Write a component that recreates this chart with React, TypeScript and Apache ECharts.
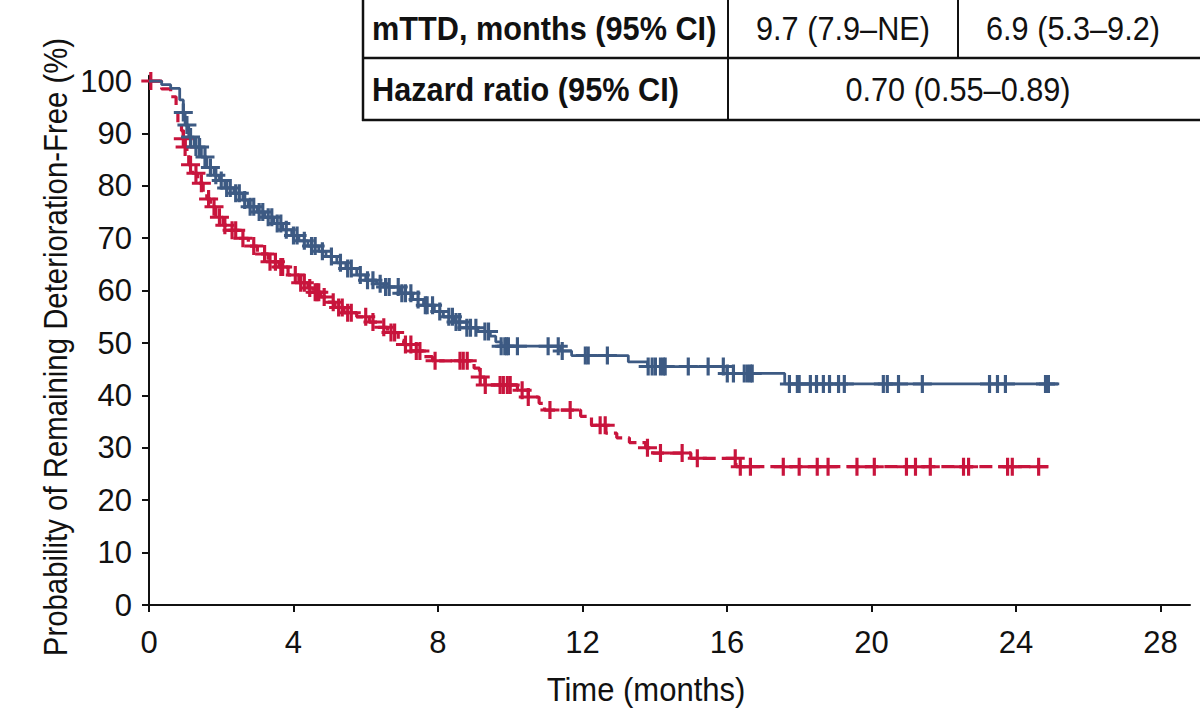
import React, { useEffect, useRef } from "react";
import * as echarts from "echarts";

// Kaplan–Meier step points: time (months) where survival changes, and the new level (%)
const blueStepT = [0, 0.35, 0.6, 0.85, 0.95, 1.0, 1.1, 1.25, 1.45, 1.6, 1.8, 1.95, 2.1, 2.35, 2.6, 2.75, 3.0, 3.2, 3.45, 3.7, 3.95, 4.15, 4.4, 4.7, 4.9, 5.2, 5.45, 5.75, 6.0, 6.3, 6.5, 6.95, 7.3, 7.6, 7.9, 8.15, 8.45, 8.8, 9.1, 9.45, 9.6, 9.75, 11.4, 11.7, 13.27, 13.8, 16.0, 17.6];
const blueStepS = [100, 99.3, 98.6, 96.4, 94, 91.6, 89.3, 87.4, 85.5, 83.5, 82, 81, 79.6, 78.6, 77.3, 76, 75, 74, 72.8, 71.6, 70.5, 69.5, 68.5, 67.5, 66.5, 65.3, 64.2, 63, 62, 61.3, 60.7, 59.5, 58.3, 57.2, 56, 55, 54, 52.9, 52.2, 51.3, 50.2, 49.4, 48.5, 47.6, 46.4, 45.5, 44.2, 42.2];
const blueEnd = 25.2;
const blueCensor = [0.95, 1.05, 1.15, 1.3, 1.4, 1.55, 1.7, 1.85, 2.0, 2.15, 2.25, 2.4, 2.5, 2.65, 2.8, 2.9, 3.05, 3.15, 3.3, 3.4, 3.55, 3.65, 3.8, 4.0, 4.1, 4.3, 4.5, 4.6, 4.8, 5.05, 5.3, 5.5, 5.6, 5.85, 6.05, 6.2, 6.4, 6.55, 6.65, 6.9, 7.0, 7.1, 7.25, 7.45, 7.65, 7.7, 7.85, 8.05, 8.3, 8.4, 8.5, 8.6, 8.8, 8.9, 9.05, 9.3, 9.4, 9.75, 9.85, 9.9, 9.95, 10.2, 11.05, 11.33, 11.44, 12.08, 12.16, 12.69, 13.82, 13.93, 14.02, 14.16, 14.24, 14.29, 14.93, 15.48, 15.9, 16.01, 16.18, 16.48, 16.57, 16.65, 16.7, 17.73, 17.95, 18.0, 18.31, 18.48, 18.67, 18.84, 19.09, 19.25, 20.33, 20.44, 20.75, 21.41, 23.27, 23.49, 23.71, 24.82, 24.9];

const redStepT = [0, 0.35, 0.6, 0.75, 0.8, 0.9, 0.95, 1.0, 1.05, 1.1, 1.2, 1.35, 1.5, 1.6, 1.7, 1.85, 2.05, 2.2, 2.5, 2.75, 3.0, 3.3, 3.6, 3.85, 4.15, 4.4, 4.55, 4.75, 4.95, 5.15, 5.4, 5.75, 6.1, 6.35, 6.6, 6.9, 7.05, 7.3, 7.6, 7.85, 9.0, 9.15, 9.3, 10.2, 10.5, 10.8, 10.95, 11.95, 12.25, 12.65, 12.95, 13.3, 13.75, 13.95, 15.0, 16.25];
const redStepS = [100, 98.5, 97, 94, 92, 90.5, 89, 87.4, 86, 84, 82.4, 80.5, 78.6, 77.5, 76, 74, 72.5, 71.5, 70, 68.5, 67, 65.5, 64.5, 63, 61.5, 60.5, 59.7, 58.8, 57.8, 56.8, 55.8, 55, 54, 53, 52, 50.5, 49.7, 48.5, 47.4, 46.6, 45.2, 43.5, 42, 41, 39.7, 38.5, 37.2, 36, 34.3, 32.8, 31.9, 31, 30, 29, 28, 26.4];
const redEnd = 24.9;
const redCensor = [0.05, 0.95, 1.0, 1.15, 1.3, 1.45, 1.65, 1.8, 1.95, 2.1, 2.3, 2.4, 2.6, 2.9, 3.2, 3.35, 3.5, 3.65, 3.7, 4.05, 4.2, 4.3, 4.45, 4.6, 4.65, 4.7, 4.85, 5.1, 5.25, 5.35, 5.5, 5.6, 6.0, 6.2, 6.5, 6.7, 6.8, 7.1, 7.25, 7.4, 7.5, 7.92, 8.61, 8.7, 8.81, 9.17, 9.31, 9.72, 9.81, 9.92, 10.0, 10.33, 10.5, 11.1, 11.66, 12.49, 12.63, 13.8, 14.16, 14.76, 15.18, 16.23, 16.37, 16.65, 17.56, 18.0, 18.5, 18.8, 19.6, 20.08, 20.97, 21.22, 21.63, 22.55, 22.69, 23.77, 23.9, 24.63];

const xTicks = [0, 4, 8, 12, 16, 20, 24, 28];
const yTicks = [0, 10, 20, 30, 40, 50, 60, 70, 80, 90, 100];

const tableRow1 = ["mTTD, months (95% CI)", "9.7 (7.9–NE)", "6.9 (5.3–9.2)"];
const tableRow2 = ["Hazard ratio (95% CI)", "0.70 (0.55–0.89)"];
const xTitle = "Time (months)";
const yTitle = "Probability of Remaining Deterioration-Free (%)";

const BLUE = "#3d5a83";
const RED = "#c8143c";
const INK = "#111111";
const FONT = "'Liberation Sans Narrow', 'Arial Narrow', 'Liberation Sans', sans-serif";

// censor tick: a "+" built from two bars
const CROSS = "path://M7.5,0 H10.5 V7.5 H18 V10.5 H10.5 V18 H7.5 V10.5 H0 V7.5 H7.5 Z";

function survivalAt(ts: number[], ss: number[], t: number): number {
  let v = ss[0];
  for (let i = 0; i < ts.length; i++) {
    if (ts[i] <= t) v = ss[i];
    else break;
  }
  return v;
}

function stepLine(ts: number[], ss: number[], end: number): number[][] {
  const pts = ts.map((t, i) => [t, ss[i]]);
  pts.push([end, ss[ss.length - 1]]);
  return pts;
}

function censorPoints(ts: number[], ss: number[], times: number[]): number[][] {
  return times.map((t) => [t, survivalAt(ts, ss, t)]);
}

// condensed-looking text: regular face squeezed horizontally
function label(text: string, x: number, y: number, align: string, bold: boolean, sx: number, rotation = 0) {
  return {
    type: "text",
    x,
    y,
    rotation,
    scaleX: sx,
    style: {
      text,
      font: `${bold ? "bold " : ""}33px ${FONT}`,
      fill: INK,
      textVerticalAlign: "middle",
      textAlign: align,
    },
  };
}

export default function App() {
  const ref = useRef<HTMLDivElement>(null);

  useEffect(() => {
    if (!ref.current) return;
    const chart = echarts.init(ref.current, undefined, { renderer: "svg" });

    const tableGraphics: any[] = [
      { type: "line", shape: { x1: 363, y1: 0, x2: 363, y2: 121 }, style: { stroke: INK, lineWidth: 2.5 } },
      { type: "line", shape: { x1: 728, y1: 0, x2: 728, y2: 121 }, style: { stroke: INK, lineWidth: 2 } },
      { type: "line", shape: { x1: 958, y1: 0, x2: 958, y2: 58 }, style: { stroke: INK, lineWidth: 2 } },
      { type: "line", shape: { x1: 362, y1: 58, x2: 1200, y2: 58 }, style: { stroke: INK, lineWidth: 2.5 } },
      { type: "line", shape: { x1: 362, y1: 120, x2: 1200, y2: 120 }, style: { stroke: INK, lineWidth: 2.5 } },
      label(tableRow1[0], 372, 29, "left", true, 0.93),
      label(tableRow1[1], 843, 29, "center", false, 0.93),
      label(tableRow1[2], 1073, 29, "center", false, 0.93),
      label(tableRow2[0], 372, 90, "left", true, 0.93),
      label(tableRow2[1], 958, 90, "center", false, 0.93),
      label(xTitle, 646, 690, "center", false, 0.94),
      label(yTitle, 56, 347, "center", false, 0.89, Math.PI / 2),
    ];

    chart.setOption({
      animation: false,
      backgroundColor: "#ffffff",
      grid: { left: 149, right: 10, top: 75.8, bottom: 106, containLabel: false },
      xAxis: {
        type: "value",
        min: 0,
        max: 28.82,
        interval: 4,
        axisLine: { lineStyle: { color: INK, width: 2 } },
        axisTick: { show: true, length: 7, customValues: xTicks, lineStyle: { color: INK, width: 2 } },
        axisLabel: { customValues: xTicks, margin: 22, fontFamily: FONT, fontSize: 31, color: INK },
        splitLine: { show: false },
      },
      yAxis: {
        type: "value",
        min: 0,
        max: 101,
        interval: 10,
        axisLine: { show: true, lineStyle: { color: INK, width: 2 } },
        axisTick: { show: true, length: 7, customValues: yTicks, lineStyle: { color: INK, width: 2 } },
        axisLabel: { customValues: yTicks, margin: 17, fontFamily: FONT, fontSize: 31, color: INK },
        splitLine: { show: false },
      },
      graphic: tableGraphics,
      series: [
        {
          type: "line",
          step: "end",
          data: stepLine(redStepT, redStepS, redEnd),
          showSymbol: false,
          symbol: "none",
          lineStyle: { color: RED, width: 3.2, type: [13, 6] },
          z: 2,
        },
        {
          type: "scatter",
          data: censorPoints(redStepT, redStepS, redCensor),
          symbol: CROSS,
          symbolSize: [19, 18],
          itemStyle: { color: RED, opacity: 1 },
          z: 3,
        },
        {
          type: "line",
          step: "end",
          data: stepLine(blueStepT, blueStepS, blueEnd),
          showSymbol: false,
          symbol: "none",
          lineStyle: { color: BLUE, width: 2.8 },
          z: 4,
        },
        {
          type: "scatter",
          data: censorPoints(blueStepT, blueStepS, blueCensor),
          symbol: CROSS,
          symbolSize: [19, 18],
          itemStyle: { color: BLUE, opacity: 1 },
          z: 5,
        },
      ],
    });

    return () => chart.dispose();
  }, []);

  return (
    <div
      ref={ref}
      style={{ position: "fixed", left: 0, top: 0, width: 1200, height: 711, background: "#fff" }}
    />
  );
}
